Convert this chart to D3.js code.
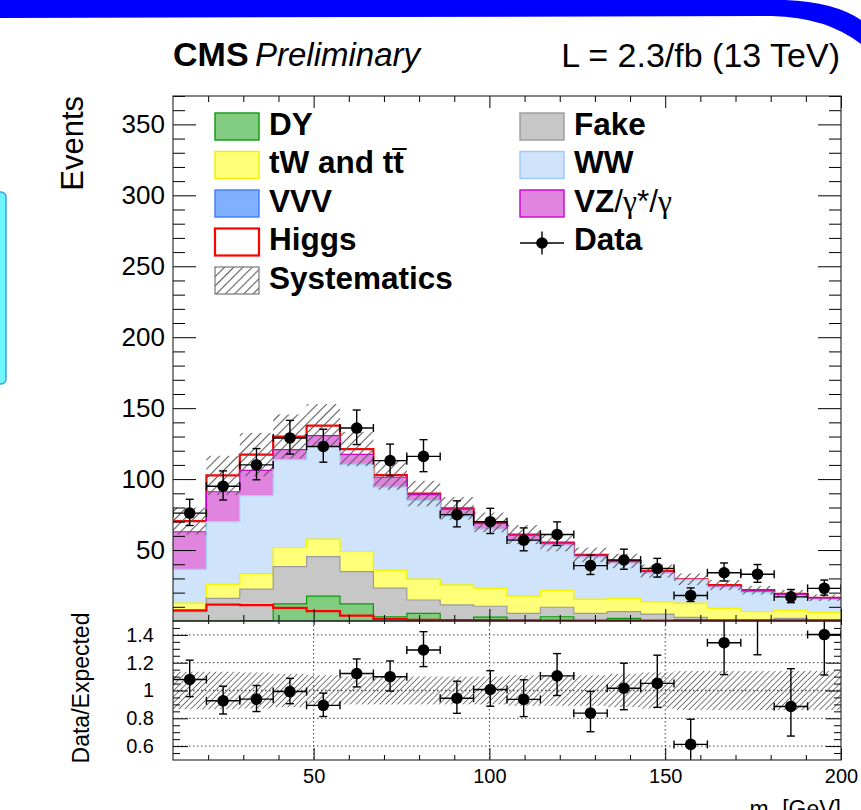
<!DOCTYPE html>
<html>
<head>
<meta charset="utf-8">
<script src="https://cdn.jsdelivr.net/npm/d3@7"></script>
<style>
  html, body { margin: 0; padding: 0; background: #ffffff; }
  svg { display: block; }
  text { font-family: "Liberation Sans", Arial, Helvetica, sans-serif; fill: #000; }
</style>
</head>
<body>
<svg id="chart" width="861" height="810"></svg>
<script>
// ---- m_ll distribution: binning and yields (events per bin) ----
const binEdges = [10, 19.5, 29, 38.5, 48, 57.5, 67, 76.5, 86, 95.5, 105,
                  114.5, 124, 133.5, 143, 152.5, 162, 171.5, 181, 190.5, 200];

const dyYield    = [0, 0, 0.3, 12.0, 17.6, 12.0, 3.0, 5.4, 1.0, 2.8, 0.3, 3.0, 0.2, 1.9, 0.1, 1.0, 0.1, 0.1, 0.1, 0.1];
const fakeYield  = [6.6, 16.0, 22.1, 26.3, 27.8, 22.8, 20.1, 9.4, 10.3, 7.6, 5.1, 6.7, 5.2, 4.7, 4.8, 1.6, 0.5, 0.5, 1.8, 0.5];
const topYield   = [5.9, 9.9, 10.8, 13.4, 12.3, 14.1, 12.4, 14.6, 14.1, 12.7, 12.2, 11.7, 9.9, 9.4, 8.7, 9.9, 8.4, 6.0, 5.4, 5.5];
const vvvYield   = [0.1, 0.2, 0.2, 0.3, 0.3, 0.3, 0.3, 0.3, 0.2, 0.2, 0.2, 0.2, 0.2, 0.2, 0.2, 0.1, 0.1, 0.1, 0.1, 0.1];
const wwYield    = [23.8, 44.0, 55.0, 61.7, 65.1, 61.2, 58.5, 55.1, 48.0, 41.5, 39.2, 31.8, 29.5, 24.5, 19.8, 16.5, 14.6, 13.4, 10.3, 9.0];
const vzYield    = [26.5, 21.0, 17.7, 7.1, 7.6, 7.0, 7.0, 4.2, 5.2, 4.0, 3.5, 1.5, 1.3, 1.3, 1.3, 0.2, 1.2, 1.2, 1.1, 0.8];
const higgsYield = [7.5, 11.5, 11.2, 9.2, 7.0, 3.8, 1.5, 0.8, 0.6, 0.7, 0.4, 0.3, 0.3, 0.3, 0.3, 0.1, 0.4, 0.4, 0.4, 0.4];
const dataCounts = [76, 95, 110, 129, 123, 136, 113, 116, 75, 70, 57, 61, 39, 43, 37, 18, 34, 33, 17, 23];
// relative systematic uncertainty on the total expectation
const systRel    = [0.135, 0.135, 0.13, 0.12, 0.11, 0.10, 0.10, 0.10, 0.10, 0.10, 0.11, 0.11, 0.11, 0.12, 0.13, 0.14, 0.14, 0.14, 0.14, 0.14];

// axis tick values
const xMajorTicks = [50, 100, 150, 200];
const yMajorTicks = [50, 100, 150, 200, 250, 300, 350];
const ratioMajorTicks = [0.6, 0.8, 1, 1.2, 1.4];

// ---- layout ----
const svg = d3.select("#chart");
const plotL = 173, plotR = 841, mainTop = 96, mainBot = 621, ratioBot = 760;

const x  = d3.scaleLinear().domain([10, 200]).range([plotL, plotR]);
const y  = d3.scaleLinear().domain([0, 370]).range([mainBot, mainTop]);
const yr = d3.scaleLinear().domain([0.5, 1.5]).range([ratioBot, mainBot]);

// ---- slide decoration ----
svg.append("path")
  .attr("d", "M0,0 L785,0 Q835,2 861,20 L861,44 Q826,17 772,16 L0,18 Z")
  .attr("fill", "#0000ff");
svg.append("rect")
  .attr("x", -10).attr("y", 192).attr("width", 16).attr("height", 192)
  .attr("rx", 5).attr("fill", "#6ef6ff").attr("stroke", "#3f9fe6").attr("stroke-width", 1.5);

// ---- defs: clip paths and hatch patterns ----
const defs = svg.append("defs");
defs.append("clipPath").attr("id", "clipMain")
  .append("rect").attr("x", plotL).attr("y", mainTop).attr("width", plotR - plotL).attr("height", mainBot - mainTop);
defs.append("clipPath").attr("id", "clipRatio")
  .append("rect").attr("x", plotL).attr("y", mainBot).attr("width", plotR - plotL).attr("height", ratioBot - mainBot);

function hatch(id, step, color, width) {
  const p = defs.append("pattern").attr("id", id)
    .attr("patternUnits", "userSpaceOnUse")
    .attr("width", step).attr("height", step)
    .attr("patternTransform", "rotate(45)");
  p.append("line").attr("x1", step / 2).attr("y1", 0).attr("x2", step / 2).attr("y2", step)
    .attr("stroke", color).attr("stroke-width", width);
}
hatch("hatchMain", 6.5, "#5a5a5a", 1.1);
hatch("hatchRatio", 4.2, "#6a6a6a", 0.9);

// ---- stacked backgrounds ----
const keys = ["dy", "fake", "top", "vvv", "ww", "vz", "higgs"];
const layerStyle = {
  dy:    { fill: "#82cc82", line: "#0a9a0a", lw: 1.2 },
  fake:  { fill: "#c7c7c7", line: "#9b9b9b", lw: 1.2 },
  top:   { fill: "#ffff78", line: "#f5f500", lw: 1.4 },
  vvv:   { fill: "#80b0ff", line: null,      lw: 0 },
  ww:    { fill: "#cfe4fb", line: "#a6cdf6", lw: 1.2 },
  vz:    { fill: "#e084e0", line: "#cc00cc", lw: 1.2 },
  higgs: { fill: "none",    line: "#ff0000", lw: 2.2 }
};
const rows = dataCounts.map((_, i) => ({
  dy: dyYield[i], fake: fakeYield[i], top: topYield[i], vvv: vvvYield[i],
  ww: wwYield[i], vz: vzYield[i], higgs: higgsYield[i]
}));
const series = d3.stack().keys(keys)(rows);
const totals = rows.map(r => d3.sum(keys, k => r[k]));

// histogram-style step points for per-bin values
const stepPoints = vals => vals.flatMap((v, i) => [[binEdges[i], v], [binEdges[i + 1], v]]);

const area = d3.area().x(d => x(d[0])).y0(y(0)).y1(d => y(d[1]));
const line = d3.line().x(d => x(d[0])).y(d => y(d[1]));

const gMain = svg.append("g").attr("clip-path", "url(#clipMain)");

// draw from the top of the stack downwards, each filled from zero
series.slice().reverse().forEach(s => {
  const st = layerStyle[s.key];
  const pts = stepPoints(s.map(d => d[1]));
  if (st.fill !== "none") gMain.append("path").attr("d", area(pts)).attr("fill", st.fill);
  if (st.line) gMain.append("path").attr("d", line(pts)).attr("fill", "none")
    .attr("stroke", st.line).attr("stroke-width", st.lw);
});

// Higgs signal also shown on its own
gMain.append("path").attr("d", line(stepPoints(higgsYield)))
  .attr("fill", "none").attr("stroke", "#ff0000").attr("stroke-width", 2.2);

// systematic band on the total expectation
gMain.selectAll("rect.syst").data(totals).join("rect")
  .attr("class", "syst")
  .attr("x", (d, i) => x(binEdges[i]))
  .attr("width", (d, i) => x(binEdges[i + 1]) - x(binEdges[i]))
  .attr("y", (d, i) => y(d * (1 + systRel[i])))
  .attr("height", (d, i) => y(d * (1 - systRel[i])) - y(d * (1 + systRel[i])))
  .attr("fill", "url(#hatchMain)");

// Poisson (Gehrels) intervals for the observed counts
const errUp  = n => Math.sqrt(n + 0.75) + 1;
const errLow = n => Math.sqrt(n - 0.25);

function drawPoints(g, pts, ys) {
  const cap = 4;
  pts.forEach(p => {
    const gp = g.append("g").attr("stroke", "#000").attr("stroke-width", 1.4);
    const xc = x(p.xc), x0 = x(p.x0), x1 = x(p.x1);
    const yc = ys(p.v), yh = ys(p.hi), yl = ys(p.lo);
    gp.append("line").attr("x1", xc).attr("x2", xc).attr("y1", yh).attr("y2", yl);
    gp.append("line").attr("x1", xc - cap).attr("x2", xc + cap).attr("y1", yh).attr("y2", yh);
    gp.append("line").attr("x1", xc - cap).attr("x2", xc + cap).attr("y1", yl).attr("y2", yl);
    if (p.inRange) {
      gp.append("line").attr("x1", x0).attr("x2", x1).attr("y1", yc).attr("y2", yc);
      gp.append("line").attr("x1", x0).attr("x2", x0).attr("y1", yc - cap).attr("y2", yc + cap);
      gp.append("line").attr("x1", x1).attr("x2", x1).attr("y1", yc - cap).attr("y2", yc + cap);
      gp.append("circle").attr("cx", xc).attr("cy", yc).attr("r", 5.8).attr("fill", "#000").attr("stroke", "none");
    }
  });
}

const mainPts = dataCounts.map((n, i) => ({
  x0: binEdges[i], x1: binEdges[i + 1], xc: (binEdges[i] + binEdges[i + 1]) / 2,
  v: n, hi: n + errUp(n), lo: n - errLow(n), inRange: true
}));
drawPoints(gMain, mainPts, y);

// ---- ratio panel ----
const gRatio = svg.append("g").attr("clip-path", "url(#clipRatio)");

// dotted grid
gRatio.selectAll("line.gx").data([50, 100, 150]).join("line")
  .attr("x1", d => x(d)).attr("x2", d => x(d)).attr("y1", mainBot).attr("y2", ratioBot)
  .attr("stroke", "#444").attr("stroke-width", 1).attr("stroke-dasharray", "1.5,2.5");
gRatio.selectAll("line.gy").data(ratioMajorTicks).join("line")
  .attr("x1", plotL).attr("x2", plotR).attr("y1", d => yr(d)).attr("y2", d => yr(d))
  .attr("stroke", "#444").attr("stroke-width", d => d === 1 ? 1.6 : 1)
  .attr("stroke-dasharray", "1.5,2.5");

gRatio.selectAll("rect.syst").data(systRel).join("rect")
  .attr("x", (d, i) => x(binEdges[i]))
  .attr("width", (d, i) => x(binEdges[i + 1]) - x(binEdges[i]))
  .attr("y", d => yr(1 + d))
  .attr("height", d => yr(1 - d) - yr(1 + d))
  .attr("fill", "url(#hatchRatio)");

const ratioPts = dataCounts.map((n, i) => {
  const r = n / totals[i];
  return {
    x0: binEdges[i], x1: binEdges[i + 1], xc: (binEdges[i] + binEdges[i + 1]) / 2,
    v: r, hi: (n + errUp(n)) / totals[i], lo: (n - errLow(n)) / totals[i],
    inRange: r >= 0.5 && r <= 1.5
  };
});
drawPoints(gRatio, ratioPts, yr);

// ---- axes ----
function addAxis(axis, tx, ty, fontSize) {
  const g = svg.append("g").attr("transform", `translate(${tx},${ty})`).call(axis);
  g.select(".domain").remove();
  g.selectAll(".tick line").attr("stroke", "#000").attr("stroke-width", 1);
  g.selectAll("text").attr("font-family", "'Liberation Sans', Arial, sans-serif")
    .attr("font-size", fontSize || 10).attr("fill", "#000");
  g.attr("font-family", null).attr("font-size", null);
  return g;
}
const noLabel = () => "";
const xMinor = d3.range(20, 200, 10).filter(v => v % 50 !== 0);
const yMinor = d3.range(10, 371, 10).filter(v => v % 50 !== 0);
const rMinor = d3.range(11, 30).filter(k => k % 4 !== 0).map(k => k * 0.05);

// main pad
addAxis(d3.axisLeft(y).tickValues(yMajorTicks).tickSize(-23).tickPadding(8).tickFormat(d3.format("d")), plotL, 0, 26);
addAxis(d3.axisLeft(y).tickValues(yMinor).tickSize(-12).tickFormat(noLabel), plotL, 0);
addAxis(d3.axisRight(y).tickValues(yMajorTicks).tickSize(-23).tickFormat(noLabel), plotR, 0);
addAxis(d3.axisRight(y).tickValues(yMinor).tickSize(-12).tickFormat(noLabel), plotR, 0);
addAxis(d3.axisTop(x).tickValues(xMajorTicks).tickSize(-12).tickFormat(noLabel), 0, mainTop);
addAxis(d3.axisTop(x).tickValues(xMinor).tickSize(-6).tickFormat(noLabel), 0, mainTop);
addAxis(d3.axisBottom(x).tickValues(xMajorTicks).tickSize(-12).tickFormat(noLabel), 0, mainBot);
addAxis(d3.axisBottom(x).tickValues(xMinor).tickSize(-6).tickFormat(noLabel), 0, mainBot);

// ratio pad
addAxis(d3.axisLeft(yr).tickValues(ratioMajorTicks).tickSize(-15).tickPadding(19).tickFormat(d3.format("~g")), plotL, 0, 20);
addAxis(d3.axisLeft(yr).tickValues(rMinor).tickSize(-7).tickFormat(noLabel), plotL, 0);
addAxis(d3.axisRight(yr).tickValues(ratioMajorTicks).tickSize(-15).tickFormat(noLabel), plotR, 0);
addAxis(d3.axisRight(yr).tickValues(rMinor).tickSize(-7).tickFormat(noLabel), plotR, 0);
addAxis(d3.axisBottom(x).tickValues(xMajorTicks).tickSize(-12).tickPadding(9).tickFormat(d3.format("d")), 0, ratioBot, 20);
addAxis(d3.axisBottom(x).tickValues(xMinor).tickSize(-5).tickFormat(noLabel), 0, ratioBot);
addAxis(d3.axisTop(x).tickValues(xMajorTicks).tickSize(-4).tickFormat(noLabel), 0, mainBot);
addAxis(d3.axisTop(x).tickValues(xMinor).tickSize(-3).tickFormat(noLabel), 0, mainBot);

// frames
svg.append("rect").attr("x", plotL).attr("y", mainTop).attr("width", plotR - plotL).attr("height", mainBot - mainTop)
  .attr("fill", "none").attr("stroke", "#222").attr("stroke-width", 1.1);
svg.append("rect").attr("x", plotL).attr("y", mainBot).attr("width", plotR - plotL).attr("height", ratioBot - mainBot)
  .attr("fill", "none").attr("stroke", "#222").attr("stroke-width", 1.1);

// ---- titles ----
svg.append("text").attr("x", plotL).attr("y", 66).attr("font-size", 34).attr("font-weight", "bold").text("CMS");
svg.append("text").attr("x", 255).attr("y", 66).attr("font-size", 33).attr("font-style", "italic").text("Preliminary");
svg.append("text").attr("x", 840).attr("y", 67).attr("font-size", 34).attr("text-anchor", "end").text("L = 2.3/fb (13 TeV)");

svg.append("text").attr("transform", `translate(83,${mainTop}) rotate(-90)`)
  .attr("text-anchor", "end").attr("font-size", 31).text("Events");
svg.append("text").attr("transform", "translate(89,688) rotate(-90)")
  .attr("text-anchor", "middle").attr("font-size", 23).text("Data/Expected");

const xTitle = svg.append("text").attr("x", 841).attr("y", 817).attr("text-anchor", "end").attr("font-size", 23);
xTitle.append("tspan").text("m");
xTitle.append("tspan").attr("font-size", 16).attr("dy", 5).text("ll");
xTitle.append("tspan").attr("dy", -5).text(" [GeV]");

// ---- legend ----
const rowBase = [134.5, 173, 211.5, 250, 288.5];
const legendLeft = [
  { key: "dy",    label: "DY" },
  { key: "top",   label: "tW and tt" },
  { key: "vvv",   label: "VVV" },
  { key: "higgs", label: "Higgs" },
  { key: "syst",  label: "Systematics" }
];
const legendRight = [
  { key: "fake", label: "Fake" },
  { key: "ww",   label: "WW" },
  { key: "vz",   label: "VZ" },
  { key: "data", label: "Data" }
];
const legendBorder = { dy: "#0a9a0a", top: "#f0f000", vvv: "#3c7cff", fake: "#9b9b9b", ww: "#9cc8f8", vz: "#cc00cc" };

function legendColumn(entries, boxX, textX) {
  entries.forEach((e, i) => {
    const base = rowBase[i];
    const bx = boxX, by = base - 21.5, bw = 44, bh = 27;
    if (e.key === "data") {
      const cy = base - 7, cx = bx + bw / 2;
      svg.append("line").attr("x1", bx).attr("x2", bx + bw).attr("y1", cy).attr("y2", cy).attr("stroke", "#000").attr("stroke-width", 1.4);
      svg.append("line").attr("x1", cx).attr("x2", cx).attr("y1", cy - 11.5).attr("y2", cy + 11.5).attr("stroke", "#000").attr("stroke-width", 1.4);
      svg.append("circle").attr("cx", cx).attr("cy", cy).attr("r", 5.8).attr("fill", "#000");
    } else if (e.key === "syst") {
      svg.append("rect").attr("x", bx).attr("y", by).attr("width", bw).attr("height", bh)
        .attr("fill", "url(#hatchMain)").attr("stroke", "#777").attr("stroke-width", 1.2);
    } else if (e.key === "higgs") {
      svg.append("rect").attr("x", bx).attr("y", by).attr("width", bw).attr("height", bh)
        .attr("fill", "#fff").attr("stroke", "#ff0000").attr("stroke-width", 2.2);
    } else {
      svg.append("rect").attr("x", bx).attr("y", by).attr("width", bw).attr("height", bh)
        .attr("fill", layerStyle[e.key].fill).attr("stroke", legendBorder[e.key]).attr("stroke-width", 1.4);
    }
    const t = svg.append("text").attr("x", textX).attr("y", base).attr("font-size", 31.5);
    t.append("tspan").attr("font-weight", "bold").text(e.label);
    if (e.key === "vz") {
      t.append("tspan").text("/");
      t.append("tspan").attr("font-family", "'Liberation Serif', 'DejaVu Serif', serif").text("γ");
      t.append("tspan").text("*/");
      t.append("tspan").attr("font-family", "'Liberation Serif', 'DejaVu Serif', serif").text("γ");
    }
    if (e.key === "top") {
      // bar over the final t of tt
      const node = t.node();
      const n = e.label.length - 1;
      const s = node.getStartPositionOfChar(n), en = node.getEndPositionOfChar(n);
      svg.append("line").attr("x1", s.x - 1).attr("x2", en.x + 3)
        .attr("y1", base - 24).attr("y2", base - 24)
        .attr("stroke", "#000").attr("stroke-width", 2);
    }
  });
}
legendColumn(legendLeft, 215, 269);
legendColumn(legendRight, 520, 574);
</script>
</body>
</html>
